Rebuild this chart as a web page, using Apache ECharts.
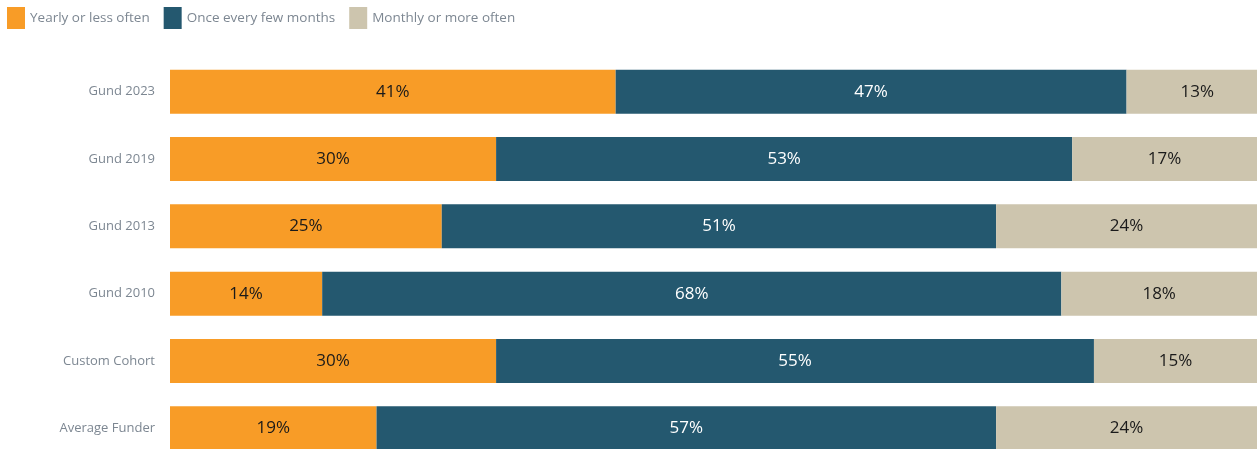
<!DOCTYPE html>
<html><head><meta charset="utf-8">
<script src="https://cdn.jsdelivr.net/npm/echarts@6/dist/echarts.min.js"></script>
<style>html,body{margin:0;padding:0;background:#fff;overflow:hidden}#c{width:1257px;height:480px}</style>
</head><body><div id="c"></div>
<script>
const categories = ["Gund 2023","Gund 2019","Gund 2013","Gund 2010","Custom Cohort","Average Funder"];
const seriesNames = ["Yearly or less often","Once every few months","Monthly or more often"];
const yearly = [41,30,25,14,30,19];
const fewMonths = [47,53,51,68,55,57];
const monthly = [13,17,24,18,15,24];
const colors = ["#F89C27","#24586F","#CDC5AE"];
const labelColors = ["#1a1a1a","#ffffff","#1a1a1a"];
const values = [yearly, fewMonths, monthly];

const chart = echarts.init(document.getElementById('c'));
chart.setOption({
  animation:false,
  textStyle:{fontFamily:'"Open Sans", sans-serif'},
  legend:{
    left:7, top:7, padding:0, itemWidth:18, itemHeight:22, itemGap:14,
    icon:'rect',
    textStyle:{fontSize:13.5, color:'#7d8792', fontFamily:'"Open Sans", sans-serif'},
    data: seriesNames
  },
  grid:{left:170, right:0, top:58, height:404, containLabel:false},
  xAxis:{type:'value', min:0, max:100, show:false},
  yAxis:{type:'category', inverse:true, data:categories,
    axisLine:{show:false}, axisTick:{show:false},
    axisLabel:{color:'#7d8792', fontSize:13, margin:15, fontFamily:'"Open Sans", sans-serif'}},
  series: seriesNames.map((n,i)=>({
    name:n, type:'bar', stack:'t', barWidth:44, clip:false,
    itemStyle:{color:colors[i]},
    label:{show:true, position:'inside', formatter:p=>p.value+'%', color:labelColors[i], fontSize:17, fontFamily:'"Open Sans", sans-serif'},
    data: values[i]
  }))
});
</script></body></html>
